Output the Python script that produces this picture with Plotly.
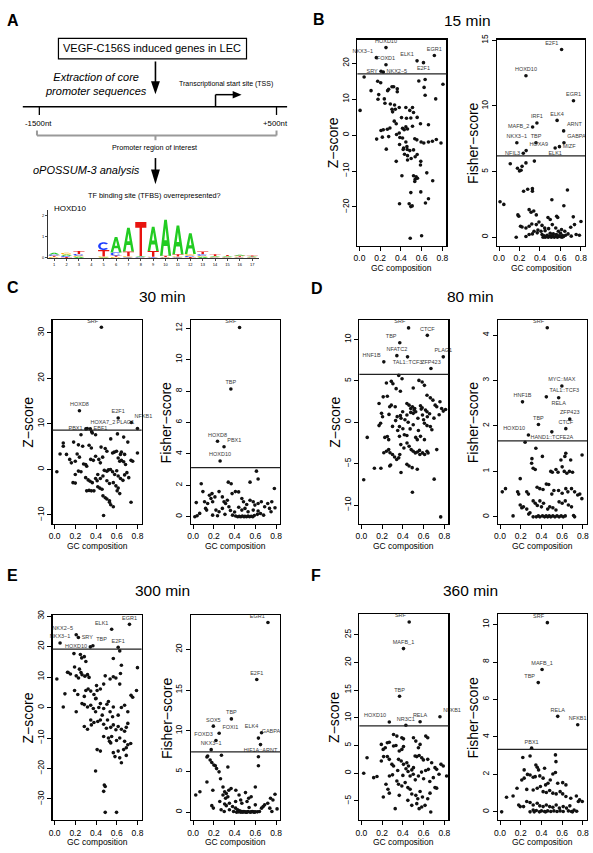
import math
import plotly.graph_objects as go

# ---------------------------------------------------------------- data
gc_ticks = [0.0, 0.2, 0.4, 0.6, 0.8]
gc_tick_text = ["0.0", "0.2", "0.4", "0.6", "0.8"]

time_labels = ["15 min", "30 min", "80 min", "300 min", "360 min"]
panel_letters = ["B", "C", "D", "E", "F"]
z_thresholds = [17.1, 8.65, 5.78, 19.2, 8.53]
f_thresholds = [6.2, 3.12, 1.67, 7.4, 3.34]

z_ticks = [[-20, -10, 0, 10, 20], [-10, 0, 10, 20, 30], [-10, -5, 0, 5, 10],
           [-30, -20, -10, 0, 10, 20, 30], [-5, 0, 5, 10, 15, 20, 25]]
f_ticks = [[0, 5, 10, 15], [0, 2, 4, 6, 8, 10, 12], [0, 1, 2, 3, 4],
           [0, 5, 10, 15, 20], [0, 2, 4, 6, 8, 10]]

# ---- 15 min
b_z_pts = [(.045,16.2),(.006,6.9),(.112,12.4),(.176,15.0),(.205,14.6),(.186,11.3),(.179,10.0),(.24,10.1),(.272,12.4),(.314,13.5),(.33,13.5),(.282,12.8),(.365,12.9),(.365,12.1),(.246,8.9),(.298,8.7),(.314,7.2),(.339,8.4),(.346,7.2),(.32,6.5),(.384,7.7),(.448,7.7),(.486,6.9),(.512,7.7),(.557,4.95),(.522,6.3),(.573,15.1),(.634,15.5),(.624,13.3),(.634,11.1),(.736,10.1),(.806,14.2),(.406,4.9),(.454,4.7),(.496,4.8),(.355,3.2),(.336,3.9),(.208,1.3),(.23,1.5),(.269,1.65),(.294,2.0),(.166,-1.1),(.221,-0.55),(.282,-0.4),(.259,-3.9),(.358,0.2),(.384,0.6),(.416,1.9),(.432,1.5),(.448,2.3),(.464,1.7),(.512,2.5),(.589,3.2),(.666,2.9),(.39,-0.65),(.416,-0.8),(.448,-1.9),(.387,-2.6),(.426,-3.6),(.422,-4.0),(.461,-4.0),(.486,-4.3),(.458,-3.2),(.522,-4.1),(.435,-5.3),(.464,-5.7),(.499,-6.5),(.538,-6.0),(.557,-5.4),(.534,-1.0),(.554,-1.3),(.595,-1.9),(.621,-2.2),(.666,-1.9),(.704,-1.7),(.742,-1.2),(.787,-2.2),(.592,-7.3),(.589,-8.3),(.464,-6.9),(.355,-7.3),(.41,-11.3),(.522,-11.3),(.547,-11.6),(.538,-12.3),(.534,-12.9),(.56,-12.0),(.707,-12.7),(.65,-10.5),(.496,-16.0),(.592,-15.8),(.637,-18.9),(.48,-19.1),(.496,-19.9),(.509,-19.7),(.387,-19.1),(.666,-17.7),(.49,-28.7),(.6,-28.0)]
b_z_tf = ["HOXD10", "NKX3\u22121", "FOXD1", "SRY", "NKX2\u22125", "ELK1", "E2F1", "EGR1"]
b_z_tf_pts = [(.256,24.4),(.163,21.6),(.256,19.6),(.208,17.8),(.23,17.6),(.556,20.7),(.618,20.2),(.723,22.2)]
b_f_pts = [(.11,5.6),(.18,5.25),(.2,5.05),(.215,5.1),(.225,5.4),(.263,5.66),(.345,5.8),(.01,2.7),(.047,2.5),(.24,3.5),(.28,3.65),(.326,3.7),(.326,3.5),(.668,3.6),(.633,2.4),(.516,2.85),(.184,1.7),(.193,1.6),(.294,2.1),(.313,1.9),(.339,2.0),(.364,1.7),(.478,1.5),(.5,1.35),(.563,1.6),(.573,1.5),(.725,1.55),(.8,1.2),(.21,.83),(.225,.78),(.263,.7),(.294,.83),(.32,1.0),(.364,.96),(.39,1.16),(.42,.9),(.446,.7),(.484,.65),(.52,.96),(.554,.7),(.579,.45),(.61,.58),(.642,.45),(.674,.25),(.7,.76),(.737,.96),(.753,.2),(.785,.15),(.168,0),(.263,.05),(.294,.2),(.326,.25),(.342,.45),(.373,.33),(.42,.2),(.44,.1),(.45,0),(.465,.05),(.48,0),(.495,.08),(.51,0),(.525,.05),(.54,0),(.555,.08),(.57,0),(.585,.1),(.6,.03),(.615,0),(.63,.05),(.705,.08),(.41,.45),(.45,.5),(.38,.55),(.5,.3),(.53,.25),(.6,.3),(.65,.15),(.43,0),(.47,.15),(.52,.12),(.56,.2),(.62,.12)]
b_f_tf = ["E2F1", "HOXD10", "EGR1", "IRF1", "MAFB_2", "ELK4", "ARNT", "NKX3\u22121", "TBP", "GABPA", "NFIL3", "HOXA9", "ELK1", "MIZF"]
b_f_tf_pts = [(.611,14.3),(.263,12.3),(.727,10.4),(.37,8.7),(.328,8.4),(.567,8.9),(.631,8.1),(.174,7.2),(.361,7.2),(.634,7.2),(.237,6.4),(.265,6.6),(.548,6.8),(.59,6.9)]

# ---- 30 min
c_z_pts = [(.255,7.6),(.364,8.0),(.396,7.6),(.358,8.3),(.542,6.7),(.607,7.8),(.667,7.1),(.707,6.0),(.084,5.8),(.084,5.1),(.184,6.0),(.23,5.4),(.271,5.1),(.333,5.3),(.355,4.7),(.449,4.9),(.489,4.6),(.505,4.0),(.576,3.8),(.56,3.6),(.598,4.0),(.645,3.8),(.636,3.3),(.676,3.3),(.738,2.0),(.8,3.6),(.053,3.4),(.115,3.3),(.146,2.2),(.162,1.45),(.2,1.8),(.218,3.4),(.24,2.7),(.28,1.2),(.3,1.1),(.31,.7),(.349,2.2),(.374,2.0),(.396,2.9),(.427,2.2),(.442,1.45),(.464,2.7),(.614,2.5),(.629,1.8),(.645,2.0),(.667,1.7),(.685,1.1),(.754,1.8),(.022,-.5),(.2,-1.1),(.23,-.36),(.255,-.5),(.3,-1.8),(.324,-2.3),(.343,-2.6),(.364,-2.9),(.417,-1.1),(.442,-2.0),(.467,-1.45),(.48,-.2),(.505,-.4),(.52,-.1),(.54,0.0),(.56,-.5),(.58,-1.1),(.6,-.3),(.614,-1.45),(.636,-2.0),(.66,-2.4),(.676,-1.2),(.698,-.7),(.716,-1.8),(.178,-2.9),(.2,-3.0),(.31,-4.7),(.333,-4.6),(.355,-4.7),(.38,-4.7),(.417,-3.8),(.436,-4.1),(.458,-4.35),(.467,-5.8),(.489,-6.2),(.505,-6.5),(.53,-6.9),(.542,-7.75),(.567,-8.2),(.53,-7.2),(.604,-4.7),(.629,-5.3),(.473,-10.1),(.738,-7.2),(.567,-2.9),(.592,-3.6),(.614,-4.1),(.505,-2.5),(.53,-3.1),(.396,-2.0),(.411,-2.5)]
c_z_tf = ["SRF", "HOXD8", "E2F1", "NFKB1", "PBX1", "HOXA7_2", "EBF1", "PLAG1"]
c_z_tf_pts = [(.452,31.2),(.24,12.9),(.614,11.3),(.741,10.3),(.302,8.9),(.315,9.0),(.345,8.9),(.8,9.0)]
c_f_pts = [(.611,2.9),(.627,2.4),(.549,2.2),(.339,2.2),(.367,2.1),(.078,2.1),(.094,1.6),(.11,.95),(.14,.84),(.03,.9),(.12,.53),(.13,.42),(.016,0),(.038,.06),(.063,.21),(.157,1.37),(.172,1.16),(.188,.95),(.182,1.47),(.21,1.26),(.25,1.6),(.282,1.26),(.298,.95),(.313,.84),(.33,1.05),(.345,.63),(.376,1.47),(.408,1.6),(.439,1.58),(.47,1.16),(.486,.95),(.517,.78),(.549,1.05),(.58,.95),(.596,.74),(.627,.84),(.658,.95),(.69,.63),(.72,.84),(.737,.53),(.759,.95),(.784,1.8),(.79,.57),(.752,.32),(.22,.42),(.25,.32),(.282,.53),(.307,.15),(.38,.1),(.41,.05),(.43,0),(.445,.02),(.46,0),(.475,.05),(.49,0),(.5,.02),(.515,0),(.53,.05),(.545,0),(.56,.03),(.575,0),(.59,.08),(.62,.15),(.65,.2),(.68,.1),(.47,.42),(.5,.53),(.53,.32),(.58,.42),(.627,.36),(.188,.1),(.235,.06),(.4,.3),(.36,.4),(.44,.6)]
c_f_tf = ["SRF", "TBP", "HOXD8", "PBX1", "HOXD10"]
c_f_tf_pts = [(.448,12.04),(.364,8.13),(.235,4.8),(.298,4.45),(.26,3.55)]

# ---- 80 min
d_z_pts = [(.36,5.66),(.392,5.26),(.241,4.74),(.288,4.94),(.304,4.66),(.555,5.06),(.586,4.86),(.608,4.46),(.21,3.07),(.25,3.15),(.335,4.06),(.376,3.75),(.5,4.14),(.633,3.27),(.665,2.95),(.69,2.67),(.712,2.07),(.727,1.87),(.758,2.47),(.774,1.67),(.79,1.35),(.812,1.55),(.17,2.27),(.194,1.08),(.273,1.87),(.288,2.07),(.439,2.27),(.46,2.07),(.476,1.67),(.492,1.87),(.508,1.47),(.524,1.27),(.5,1.08),(.57,1.99),(.586,1.75),(.618,1.47),(.633,1.27),(.376,.8),(.398,1.27),(.345,.68),(.204,.67),(.17,-.4),(.185,-.12),(.056,-1.83),(.266,.95),(.326,1.87),(.382,.48),(.367,-.52),(.4,-.79),(.439,.87),(.451,0),(.476,1.19),(.514,1.67),(.545,.48),(.577,1.59),(.589,.87),(.608,-.12),(.636,.67),(.658,1.03),(.633,-.4),(.665,-.52),(.68,-.91),(.226,-1.83),(.25,-1.71),(.263,-2.1),(.216,-3.69),(.241,-3.5),(.276,-3.69),(.263,-3.3),(.282,-5.16),(.273,-5.28),(.125,-5.56),(.188,-5.56),(.3,-3.9),(.32,-4.2),(.34,-4.5),(.36,-4.3),(.37,-3.9),(.38,-2.7),(.41,-3.1),(.44,-2.5),(.46,-2.9),(.382,-6.07),(.439,-5.08),(.46,-5.28),(.49,-5.48),(.48,-3.3),(.5,-3.5),(.52,-3.7),(.54,-3.6),(.56,-3.4),(.59,-3.7),(.539,-5.67),(.564,-3.9),(.61,-3.9),(.633,-3.5),(.643,-3.7),(.727,-3.3),(.524,-1.83),(.539,-2.1),(.57,-1.7),(.608,-2.1),(.367,-1.7),(.414,-1.5),(.439,-1.6),(.492,-8.45),(.702,-6.87),(.022,-6.94),(.765,-11.43),(.3,-.5),(.33,.2),(.35,-1.0),(.42,.3),(.47,-.8),(.5,-.3),(.55,-1.0),(.6,.3),(.7,.5),(.75,.9)]
d_z_tf = ["SRF", "CTCF", "TBP", "NFATC2", "HNF1B", "TAL1::TCF3", "PLAG1", "ZFP423"]
d_z_tf_pts = [(.455,11.4),(.636,10.5),(.37,9.6),(.342,8.05),(.216,7.3),(.445,7.9),(.79,7.9),(.671,6.5)]
d_f_pts = [(.242,1.64),(.346,1.51),(.409,1.33),(.308,1.28),(.305,1.18),(.32,1.07),(.34,1.04),(.635,1.4),(.626,1.33),(.588,1.25),(.792,1.36),(.682,1.25),(.49,1.0),(.505,.98),(.54,1.04),(.56,.98),(.6,1.1),(.62,1.0),(.645,.96),(.67,1.0),(.7,.98),(.195,.84),(.022,.55),(.053,.62),(.17,.55),(.18,.5),(.258,.55),(.274,.5),(.358,.65),(.384,.62),(.415,.6),(.447,.72),(.47,.71),(.5,.5),(.52,.58),(.565,.58),(.6,.52),(.635,.62),(.655,.55),(.69,.62),(.72,.55),(.75,.48),(.77,.5),(.79,.4),(.195,.26),(.21,.2),(.226,.22),(.126,.02),(.258,.17),(.277,.06),(.289,.09),(.32,.35),(.34,.3),(.36,.25),(.385,.35),(.4,.22),(.42,.3),(.46,.17),(.48,.22),(.51,.2),(.54,.15),(.57,.33),(.6,.3),(.63,.35),(.66,.26),(.69,.22),(.32,0),(.35,0),(.37,.02),(.385,0),(.41,.02),(.43,0),(.445,.02),(.46,0),(.475,.02),(.49,0),(.51,.02),(.53,0),(.55,.02),(.57,0),(.59,.02),(.61,0),(.63,.02),(.71,.03),(.72,0)]
d_f_tf = ["SRF", "MYC::MAX", "TAL1::TCF3", "HNF1B", "RELA", "ZFP423", "TBP", "CTCF", "HOXD10", "HAND1::TCFE2A"]
d_f_tf_pts = [(.456,4.16),(.597,2.88),(.447,2.64),(.217,2.53),(.566,2.62),(.673,2.15),(.371,2.03),(.635,1.94),(.274,1.8),(.5,1.87)]

# ---- 300 min
e_z_pts = [(.187,17.7),(.249,17.4),(.262,16.3),(.287,16.7),(.302,15.1),(.567,16.1),(.629,18.6),(.193,13.3),(.24,12.6),(.645,13.9),(.8,13.1),(.125,11.6),(.153,11.0),(.265,10.75),(.293,10.3),(.022,9.35),(.131,11.5),(.209,10.4),(.231,9.7),(.255,11.5),(.318,10.8),(.333,9.9),(.489,10.4),(.536,9.35),(.567,10.1),(.592,9.7),(.629,7.7),(.636,11.2),(.1,4.5),(.193,5.6),(.224,4.3),(.287,3.66),(.302,5.6),(.324,6.1),(.349,5.4),(.38,4.3),(.396,2.9),(.411,5.6),(.442,6.1),(.405,7.2),(.474,7.7),(.265,1.3),(.287,.97),(.318,.2),(.349,.75),(.374,-.3),(.396,-1.4),(.427,0),(.442,1.3),(.474,-.3),(.505,1.1),(.536,-1.4),(.567,.2),(.614,-2.5),(.645,0),(.676,.75),(.707,-1.4),(.738,4.0),(.754,3.4),(.791,5.6),(.084,.2),(.209,-1.4),(.349,-4.1),(.38,-4.9),(.417,-4.6),(.442,-4.1),(.474,-5.5),(.511,-4.1),(.542,-6.5),(.567,-5.7),(.592,-7.3),(.614,-6.2),(.645,-7.1),(.676,-7.8),(.692,-6.5),(.707,-5.2),(.287,-6.2),(.318,-7.1),(.355,-5.7),(.474,-9.5),(.52,-10.0),(.551,-9.5),(.598,-10.8),(.629,-10.0),(.676,-11.1),(.707,-12.2),(.735,-11.8),(.692,-13.2),(.411,-13.8),(.442,-14.3),(.53,-11.1),(.542,-11.6),(.567,-14.8),(.583,-16.1),(.614,-14.3),(.629,-16.5),(.645,-18.1),(.667,-13.8),(.692,-15.7),(.396,-20.8),(.48,-25.4),(.489,-25.9),(.474,-27.5),(.489,-34.4),(.598,-34.4),(.4,3.0),(.52,2.0),(.56,-3.0),(.46,-2.5),(.5,-6.8)]
e_z_tf = ["EGR1", "ELK1", "NKX2\u22125", "SRY", "NKX3\u22121", "HOXD10", "TBP", "E2F1"]
e_z_tf_pts = [(.723,27.3),(.551,25.7),(.209,23.9),(.23,23.0),(.053,21.2),(.345,19.9),(.37,20.3),(.614,19.8)]
e_f_pts = [(.133,6.77),(.14,6.9),(.164,6.4),(.18,6.1),(.2,5.8),(.214,5.7),(.226,5.35),(.25,4.95),(.264,4.1),(.273,7.0),(.335,5.55),(.63,5.7),(.63,6.8),(.6,3.1),(.025,2.1),(.065,2.5),(.133,3.7),(.19,2.7),(.18,.8),(.195,.5),(.288,2.1),(.313,1.7),(.335,1.9),(.344,2.7),(.366,2.9),(.412,2.7),(.443,2.1),(.459,1.5),(.505,2.4),(.536,1.7),(.56,1.9),(.257,1.3),(.304,1.0),(.32,.8),(.35,1.1),(.38,.7),(.41,.49),(.43,.3),(.45,.16),(.47,.08),(.49,.08),(.51,0),(.53,.08),(.55,0),(.57,.08),(.59,0),(.62,.04),(.64,.08),(.66,.49),(.676,.7),(.69,.9),(.72,1.1),(.74,.49),(.76,.08),(.77,1.5),(.79,2.2),(.747,1.7),(.41,1.3),(.47,1.1),(.52,1.3),(.6,.9),(.54,.57),(.27,.3),(.3,.08),(.35,.3),(.39,.08),(.42,0),(.44,.04),(.288,3.1),(.304,2.5),(.32,2.3),(.46,0),(.48,0),(.5,.04),(.52,0),(.56,.04),(.58,.04),(.6,.04),(.81,.4)]
e_f_tf = ["EGR1", "E2F1", "TBP", "SOX5", "FOXI1", "ELK4", "GABPA", "FOXD3", "NKX3\u22121", "HIF1A::ARNT"]
e_f_tf_pts = [(.722,23.3),(.614,16.3),(.369,11.46),(.195,10.57),(.251,9.7),(.66,9.76),(.63,9.1),(.22,8.8),(.174,7.68),(.65,8.3)]

# ---- 360 min
f_z_pts = [(.31,7.0),(.342,6.7),(.39,6.4),(.406,6.2),(.192,5.2),(.21,4.3),(.23,4.6),(.25,5.5),(.269,5.6),(.31,4.9),(.333,5.0),(.365,4.0),(.39,4.3),(.406,4.8),(.502,6.4),(.525,5.8),(.55,4.6),(.566,5.2),(.621,6.7),(.64,6.4),(.054,2.8),(.118,-.8),(.15,-.6),(.022,0),(.192,2.2),(.214,3.0),(.25,3.0),(.269,2.5),(.294,1.6),(.31,1.3),(.358,2.5),(.384,2.2),(.406,1.6),(.438,1.9),(.454,1.3),(.486,.6),(.502,1.0),(.518,3.1),(.534,3.0),(.557,3.2),(.582,2.8),(.598,2.4),(.64,2.5),(.237,-2.0),(.256,-2.9),(.269,-3.6),(.342,-1.4),(.358,-2.0),(.39,-2.3),(.422,-1.7),(.448,-2.6),(.47,-2.9),(.486,-3.75),(.525,-4.0),(.544,-4.6),(.566,-3.3),(.589,-4.3),(.64,-4.6),(.662,-3.6),(.448,-4.9),(.486,-5.8),(.534,-5.5),(.557,-6.4),(.582,-6.1),(.614,-5.8),(.669,-7.0),(.326,-6.4),(.365,-4.0),(.211,-4.3),(.71,1.0),(.726,.7),(.749,-.2),(.79,1.3),(.822,-.5),(.768,1.6),(.694,-.8),(.71,-2.6),(.726,-2.7),(.678,1.9),(.646,.7),(.45,.3),(.47,-.5),(.5,-.2),(.52,-1.2),(.55,-.5),(.58,.2),(.6,-1.0),(.62,.5),(.43,.8),(.4,-.4),(.35,.5),(.3,-.3),(.66,-1.5),(.27,-.5)]
f_z_tf = ["SRF", "MAFB_1", "TBP", "HOXD10", "NR3C1", "RELA", "NFKB1"]
f_z_tf_pts = [(.461,27.3),(.406,22.5),(.368,13.9),(.269,9.25),(.429,8.65),(.566,9.3),(.758,10.2)]
f_f_pts = [(.22,2.9),(.29,2.98),(.535,3.04),(.54,2.68),(.346,2.5),(.359,2.38),(.372,2.24),(.43,2.33),(.233,2.24),(.265,2.0),(.29,1.97),(.32,1.85),(.34,1.88),(.21,1.7),(.233,1.8),(.384,1.92),(.416,1.8),(.44,1.44),(.463,1.53),(.485,1.7),(.51,2.02),(.535,2.1),(.557,1.53),(.605,1.56),(.636,1.44),(.164,1.26),(.258,1.2),(.32,1.17),(.359,1.26),(.39,1.35),(.416,1.08),(.447,1.03),(.479,1.14),(.51,1.0),(.542,.96),(.58,1.08),(.605,.96),(.636,.82),(.683,.73),(.737,.85),(.768,.64),(.016,0),(.063,.78),(.126,.85),(.18,.37),(.195,.28),(.227,.28),(.258,.55),(.29,.5),(.32,.37),(.359,.46),(.384,.32),(.416,.28),(.447,.37),(.479,.28),(.51,.25),(.542,.37),(.573,.2),(.61,.28),(.642,.2),(.674,.32),(.715,.1),(.32,.1),(.35,.07),(.4,.05),(.43,.02),(.46,.05),(.49,.02),(.52,.05),(.55,.02),(.58,.05),(.61,.02),(.66,.05),(.69,.02),(.7,0),(.74,.03),(.756,.55),(.794,.55),(.29,0),(.33,0),(.38,0),(.44,0)]
f_f_tf = ["SRF", "MAFB_1", "TBP", "RELA", "NFKB1", "PBX1"]
f_f_tf_pts = [(.457,10.1),(.406,7.6),(.369,6.9),(.557,5.1),(.75,4.65),(.305,3.4)]

# ---- HOXD10 sequence logo (bits per position 1..17)
logo_positions = list(range(1, 18))
logo_A = [0.08,0.07,0.05,0,0.03,0.72,1.12,0.04,1.15,1.70,1.35,0.98,0.05,0.04,0.04,0.05,0.03]
logo_C = [0.06,0.05,0.08,0,0.37,0.15,0.03,0.03,0.03,0.02,0.03,0.06,0.08,0.02,0.02,0.02,0.02]
logo_G = [0.05,0.08,0.06,0,0.04,0.05,0.05,0.02,0.03,0.02,0.04,0.08,0.05,0.03,0.03,0.04,0.02]
logo_T = [0.05,0.04,0.14,0,0.30,0.06,0.22,1.60,0.26,0.06,0.10,0.04,0.12,0.08,0.05,0.04,0.04]

# ---------------------------------------------------------------- styles
W, H = 593, 853
FONT = "Liberation Sans, Arial, sans-serif"


def px(x):
    return x / W


def py(y):
    return 1 - y / H


z_pts_all = [b_z_pts, c_z_pts, d_z_pts, e_z_pts, f_z_pts]
z_tf_all = [b_z_tf, c_z_tf, d_z_tf, e_z_tf, f_z_tf]
z_tf_pts_all = [b_z_tf_pts, c_z_tf_pts, d_z_tf_pts, e_z_tf_pts, f_z_tf_pts]
f_pts_all = [b_f_pts, c_f_pts, d_f_pts, e_f_pts, f_f_pts]
f_tf_all = [b_f_tf, c_f_tf, d_f_tf, e_f_tf, f_f_tf]
f_tf_pts_all = [b_f_tf_pts, c_f_tf_pts, d_f_tf_pts, e_f_tf_pts, f_f_tf_pts]

z_label_pos = [
    ["top center", "top left", "top center", "middle left", "middle right", "top left", "bottom center", "top center"],
    ["top left", "top center", "top center", "top right", "middle left", "top right", "middle right", "top left"],
    ["top left", "top center", "top left", "top center", "top left", "bottom center", "top center", "top center"],
    ["top center", "top left", "top left", "middle right", "top center", "middle left", "top right", "top center"],
    ["top left", "top center", "top center", "top left", "top center", "top center", "top right"],
]
f_label_pos = [
    ["top left", "top center", "top center", "top center", "middle left", "top center", "top right", "top center",
     "top center", "top right", "middle left", "top right", "bottom center", "middle right"],
    ["top left", "top center", "top center", "top right", "top center"],
    ["top left", "top center", "top right", "top center", "bottom center", "top center", "top center", "top center",
     "top left", "bottom center"],
    ["top left", "top center", "top center", "top center", "top right", "top left", "top right", "top left",
     "top center", "bottom center"],
    ["top left", "top center", "top left", "top center", "top center", "top center"],
]

# panel boxes in px: (z-plot x0,x1), (fisher x0,x1), (y0,y1)
boxes = [((357, 447), (498, 587), (34, 242)),
         ((49, 139), (189, 279), (317, 523)),
         ((359, 449), (499, 589), (317, 523)),
         ((49, 139), (189, 279), (615, 822)),
         ((359, 449), (499, 589), (614, 822))]
z_ranges = [[-30.8, 26.6], [-12.0, 32.8], [-12.3, 12.35], [-37.0, 30.3], [-8.5, 28.7]]
f_ranges = [[-0.65, 15.05], [-0.47, 12.52], [-0.16, 4.33], [-1.0, 24.2], [-0.45, 10.55]]
x_range = [-0.02, 0.84]

fig = go.Figure()
layout = dict(width=W, height=H, margin=dict(l=0, r=0, t=0, b=0), autosize=False,
              paper_bgcolor="white", plot_bgcolor="white", showlegend=False,
              font=dict(family=FONT, color="black"))
shapes = []
annotations = []


def ann(text, x, y, size, xanchor="center", yanchor="middle", angle=0, color="black", **kw):
    annotations.append(dict(text=text, x=px(x), y=py(y), xref="paper", yref="paper",
                            showarrow=False, xanchor=xanchor, yanchor=yanchor, textangle=angle,
                            font=dict(size=size, color=color, family=FONT), **kw))


def axname(i, kind):
    return kind if i == 1 else f"{kind}{i}"


idx = 0
for p in range(5):
    (zx0, zx1), (fx0, fx1), (by0, by1) = boxes[p]
    sub = [
        (zx0, zx1, z_pts_all[p], z_tf_all[p], z_tf_pts_all[p], z_label_pos[p], z_ranges[p], z_ticks[p],
         z_thresholds[p], "Z\u2212score"),
        (fx0, fx1, f_pts_all[p], f_tf_all[p], f_tf_pts_all[p], f_label_pos[p], f_ranges[p], f_ticks[p],
         f_thresholds[p], "Fisher\u2212score"),
    ]
    for (x0, x1, pts, tfs, tfpts, lpos, yr, yt, thr, ytitle) in sub:
        idx += 1
        xa, ya = axname(idx, "x"), axname(idx, "y")
        layout[axname(idx, "xaxis")] = dict(
            domain=[px(x0), px(x1)], anchor=ya, range=x_range, tickvals=gc_ticks, ticktext=gc_tick_text,
            ticks="outside", ticklen=4, tickwidth=1, tickcolor="black", showline=True, linecolor="black",
            linewidth=1.2, mirror=True, showgrid=False, zeroline=False,
            tickfont=dict(size=8.5, color="black", family=FONT))
        layout[axname(idx, "yaxis")] = dict(
            domain=[py(by1), py(by0)], anchor=xa, range=yr, tickvals=yt, tickangle=-90,
            ticks="outside", ticklen=4, tickwidth=1, tickcolor="black", showline=True, linecolor="black",
            linewidth=1.2, mirror=True, showgrid=False, zeroline=False,
            tickfont=dict(size=8.5, color="black", family=FONT))
        fig.add_trace(go.Scatter(x=[a for a, b in pts], y=[b for a, b in pts], mode="markers",
                                 xaxis=xa, yaxis=ya, marker=dict(size=3.6, color="#111111"),
                                 hoverinfo="skip"))
        fig.add_trace(go.Scatter(x=[a for a, b in tfpts], y=[b for a, b in tfpts], mode="markers+text",
                                 text=tfs, textposition=lpos, cliponaxis=False,
                                 textfont=dict(size=5.5, color="#3a3a3a", family=FONT),
                                 xaxis=xa, yaxis=ya, marker=dict(size=3.6, color="#111111"),
                                 hoverinfo="skip"))
        shapes.append(dict(type="line", xref=f"{xa} domain", x0=0, x1=1, yref=ya, y0=thr, y1=thr,
                           line=dict(color="#222222", width=1.3)))
        ann(ytitle, x0 - 25, (by0 + by1) / 2, 14, angle=-90)
        ann("GC composition", (x0 + x1) / 2, by1 + 22, 8.5)
    # time title and panel letter
    title_x = [468, 160.5, 471.5, 160.5, 471.5][p]
    title_y = [15, 293, 293, 590, 590][p]
    ann(time_labels[p], title_x, title_y, 15.5)
    let_x = [318, 9, 316, 8.5, 315][p]
    let_y = [14, 284, 285, 575, 575][p]
    ann(f"<b>{panel_letters[p]}</b>", let_x, let_y, 16)

# ---------------------------------------------------------------- panel A
ann("<b>A</b>", 9.5, 15, 16)
shapes.append(dict(type="rect", xref="paper", yref="paper", x0=px(55), x1=px(245), y0=py(53.3), y1=py(32.7),
                   line=dict(color="black", width=1.2)))
ann("VEGF-C156S induced genes in LEC", 150, 42.5, 11)


def line_px(x0, y0, x1, y1, color="black", width=1.3):
    shapes.append(dict(type="line", xref="paper", yref="paper", x0=px(x0), y0=py(y0), x1=px(x1), y1=py(y1),
                       line=dict(color=color, width=width)))


def tri_px(points):
    path = "M " + " L ".join(f"{px(a):.5f},{py(b):.5f}" for a, b in points) + " Z"
    shapes.append(dict(type="path", xref="paper", yref="paper", path=path, fillcolor="black",
                       line=dict(width=0)))


# arrow 1
line_px(153, 56, 153, 78, width=1.6)
tri_px([(148.5, 76), (157.5, 76), (153, 89)])
ann("<i>Extraction of core<br>promoter sequences</i>", 39, 78.3, 11, xanchor="left")
ann("Transcriptional start site (TSS)", 224, 78.3, 7)
# genomic line
line_px(19, 101.7, 286, 101.7, width=1.3)
line_px(35.7, 101.7, 35.7, 110, width=1.3)
line_px(275.3, 101.7, 275.3, 110, width=1.3)
# TSS arrow
line_px(213.7, 101.7, 213.7, 89.5, width=1.5)
line_px(213.7, 89.5, 232, 89.5, width=1.5)
tri_px([(231, 85.7), (231, 93.3), (240, 89.5)])
ann("-1500nt", 35.3, 118.7, 7.8)
ann("+500nt", 274.5, 118.7, 7.8)
# bracket
line_px(33.3, 130.7, 275.3, 130.7, color="#9a9a9a", width=2)
line_px(33.3, 125.7, 33.3, 130.7, color="#9a9a9a", width=2)
line_px(275.3, 125.7, 275.3, 130.7, color="#9a9a9a", width=2)
line_px(153, 130.7, 153, 135.5, color="#9a9a9a", width=2)
ann("Promoter region of interest", 152.5, 143.3, 7.2)
# arrow 2
line_px(153, 153.5, 153, 167, width=1.6)
tri_px([(148.5, 165), (157.5, 165), (153, 180)])
ann("<i>oPOSSUM-3 analysis</i>", 27.5, 165.7, 11, xanchor="left")
ann("TF binding site (TFBS) overrepresented?", 152.5, 191.7, 7.3)
ann("HOXD10", 48, 204.3, 8, xanchor="left")

# logo axes
layout["xaxis11"] = dict(domain=[px(44.3), px(258)], anchor="y11", range=[0.49, 17.58],
                         tickvals=logo_positions, ticks="outside", ticklen=2, tickwidth=0.7,
                         tickcolor="black", showline=True, linecolor="black", linewidth=0.8,
                         showgrid=False, zeroline=False, tickfont=dict(size=4, color="black", family=FONT))
layout["yaxis11"] = dict(domain=[py(254.3), py(206)], anchor="x11", range=[0, 2.25], tickvals=[0, 1, 2],
                         ticks="outside", ticklen=2, tickwidth=0.7, tickcolor="black", showline=True,
                         linecolor="black", linewidth=0.8, showgrid=False, zeroline=False,
                         tickfont=dict(size=4, color="black", family=FONT))
fig.add_trace(go.Scatter(x=[1, 17], y=[0, 0], mode="markers", xaxis="x11", yaxis="y11",
                         marker=dict(size=1, color="rgba(0,0,0,0)"), hoverinfo="skip"))

A_outer = [(0, 0), (0.38, 1), (0.62, 1), (1, 0), (0.77, 0), (0.67, 0.27), (0.33, 0.27), (0.23, 0)]
A_hole = [(0.39, 0.43), (0.5, 0.77), (0.61, 0.43)]
T_poly = [(0, 1), (1, 1), (1, 0.83), (0.61, 0.83), (0.61, 0), (0.39, 0), (0.39, 0.83), (0, 0.83)]


def ring(a0, a1):
    outer = [(0.5 + 0.5 * math.cos(math.radians(a)), 0.5 + 0.5 * math.sin(math.radians(a)))
             for a in range(a0, a1 + 1, 10)]
    inner = [(0.5 + 0.28 * math.cos(math.radians(a)), 0.5 + 0.3 * math.sin(math.radians(a)))
             for a in range(a1, a0 - 1, -10)]
    return outer + inner


glyphs = {"A": ([A_outer, A_hole], "#22cc22"),
          "C": ([ring(40, 320)], "#1f3fff"),
          "G": ([ring(30, 330)], "#ffb300"),
          "T": ([T_poly], "#e8140f")}


def glyph_path(polys, x0, x1, y0, y1):
    s = ""
    for poly in polys:
        for k, (u, v) in enumerate(poly):
            s += ("M " if k == 0 else "L ") + f"{x0 + u * (x1 - x0):.4f},{y0 + v * (y1 - y0):.4f} "
        s += "Z "
    return s


for i, pos in enumerate(logo_positions):
    stack = sorted([("A", logo_A[i]), ("C", logo_C[i]), ("G", logo_G[i]), ("T", logo_T[i])],
                   key=lambda t: t[1])
    base = 0.0
    for letter, h in stack:
        if h <= 0:
            continue
        polys, col = glyphs[letter]
        shapes.append(dict(type="path", xref="x11", yref="y11",
                           path=glyph_path(polys, pos - 0.45, pos + 0.45, base, base + h),
                           fillcolor=col, line=dict(width=0), fillrule="evenodd", layer="above"))
        base += h

layout["shapes"] = shapes
layout["annotations"] = annotations
fig.update_layout(**layout)
fig.write_html("out.html", config={"displayModeBar": False, "staticPlot": True},
               post_script="document.body.style.margin='0';document.body.style.overflow='hidden';")
